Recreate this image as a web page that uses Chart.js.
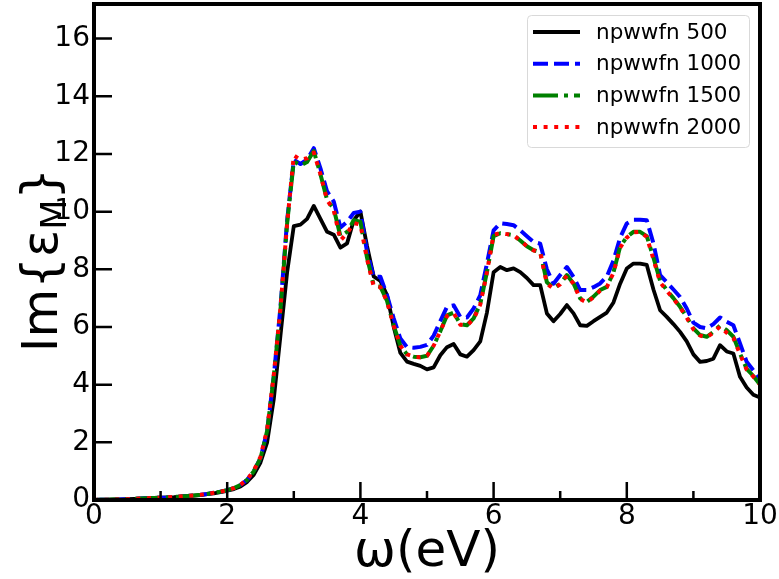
<!DOCTYPE html>
<html>
<head>
<meta charset="utf-8">
<script src="https://cdn.jsdelivr.net/npm/chart.js@4"></script>
<style>
  body { margin: 0; background: #fff; }
  canvas { display: block; }
</style>
</head>
<body>
<canvas id="myChart" width="779" height="579"></canvas>
<script>
// photon energy grid (eV)
const energy = [];
for (let i = 0; i <= 100; i++) energy.push(+(i / 10).toFixed(1));

// Im{eps_M}, one value per 0.1 eV
const npw500 = [
  0.00, 0.01, 0.01, 0.02, 0.02, 0.03, 0.04, 0.05, 0.06, 0.07,
  0.08, 0.09, 0.10, 0.12, 0.13, 0.15, 0.17, 0.20, 0.23, 0.27,
  0.32, 0.38, 0.47, 0.63, 0.88, 1.30, 2.00, 3.50, 5.70, 7.90,
  9.50, 9.55, 9.75, 10.20, 9.75, 9.30, 9.20, 8.75, 8.90, 9.70,
  10.00, 8.80, 7.75, 7.60, 7.10, 6.00, 5.10, 4.80, 4.72, 4.65,
  4.53, 4.60, 5.02, 5.30, 5.41, 5.05, 4.97, 5.20, 5.50, 6.50,
  7.90, 8.08, 7.97, 8.03, 7.90, 7.70, 7.45, 7.45, 6.47, 6.20,
  6.45, 6.76, 6.47, 6.06, 6.04, 6.20, 6.35, 6.50, 6.85, 7.50,
  8.03, 8.20, 8.20, 8.15, 7.30, 6.58, 6.35, 6.10, 5.83, 5.50,
  5.05, 4.79, 4.82, 4.90, 5.37, 5.15, 5.08, 4.27, 3.90, 3.65,
  3.55
];
const npw1000 = [
  0.00, 0.01, 0.01, 0.02, 0.02, 0.03, 0.04, 0.05, 0.06, 0.07,
  0.08, 0.09, 0.11, 0.12, 0.14, 0.16, 0.18, 0.21, 0.25, 0.29,
  0.34, 0.41, 0.52, 0.70, 1.00, 1.45, 2.40, 4.30, 6.70, 9.70,
  11.80, 11.65, 11.80, 12.20, 11.50, 10.70, 10.35, 9.45, 9.65, 9.95,
  10.00, 8.60, 7.74, 7.74, 7.10, 6.30, 5.60, 5.30, 5.28, 5.31,
  5.38, 5.70, 6.20, 6.70, 6.75, 6.35, 6.33, 6.64, 7.10, 8.20,
  9.35, 9.60, 9.57, 9.53, 9.35, 9.15, 8.95, 8.89, 8.00, 7.50,
  7.80, 8.08, 7.74, 7.28, 7.28, 7.38, 7.51, 7.75, 8.30, 9.10,
  9.59, 9.72, 9.72, 9.70, 8.90, 7.80, 7.55, 7.30, 7.04, 6.64,
  6.15, 6.00, 5.95, 6.10, 6.33, 6.18, 6.06, 5.43, 4.79, 4.50,
  4.20
];
const npw1500 = [
  0.00, 0.01, 0.01, 0.02, 0.02, 0.03, 0.04, 0.05, 0.06, 0.07,
  0.08, 0.09, 0.11, 0.12, 0.14, 0.16, 0.18, 0.21, 0.25, 0.29,
  0.34, 0.41, 0.52, 0.70, 1.00, 1.45, 2.40, 4.30, 6.60, 9.60,
  11.75, 11.60, 11.72, 12.10, 11.30, 10.40, 10.10, 9.15, 9.30, 9.70,
  9.65, 8.40, 7.45, 7.40, 6.90, 6.05, 5.35, 5.05, 4.97, 4.95,
  5.00, 5.35, 5.85, 6.40, 6.50, 6.10, 6.06, 6.30, 6.80, 7.90,
  9.15, 9.25, 9.22, 9.18, 9.00, 8.80, 8.66, 8.60, 7.55, 7.35,
  7.50, 7.80, 7.51, 6.99, 6.87, 7.05, 7.28, 7.39, 7.90, 8.78,
  9.12, 9.30, 9.30, 9.15, 8.40, 7.60, 7.28, 7.00, 6.70, 6.35,
  5.95, 5.72, 5.66, 5.83, 6.05, 5.89, 5.66, 5.08, 4.55, 4.30,
  4.00
];
const npw2000 = [
  0.00, 0.01, 0.01, 0.02, 0.02, 0.03, 0.04, 0.05, 0.06, 0.07,
  0.08, 0.09, 0.11, 0.12, 0.14, 0.16, 0.18, 0.21, 0.25, 0.29,
  0.34, 0.41, 0.53, 0.71, 1.02, 1.50, 2.45, 4.35, 6.65, 9.60,
  11.95, 11.80, 11.85, 12.05, 11.30, 10.40, 10.05, 9.00, 9.25, 9.60,
  9.55, 8.35, 7.40, 7.38, 6.88, 6.05, 5.35, 5.05, 4.97, 4.95,
  5.00, 5.35, 5.85, 6.38, 6.48, 6.08, 6.05, 6.28, 6.78, 7.90,
  9.20, 9.25, 9.22, 9.18, 9.00, 8.80, 8.66, 8.58, 7.50, 7.33,
  7.48, 7.78, 7.50, 6.97, 6.85, 7.03, 7.26, 7.38, 7.88, 8.75,
  9.10, 9.28, 9.30, 9.12, 8.35, 7.55, 7.25, 6.98, 6.68, 6.32,
  5.92, 5.70, 5.64, 5.80, 6.02, 5.80, 5.62, 5.05, 4.52, 4.28,
  4.00
];

const seriesNames = ['npwwfn 500', 'npwwfn 1000', 'npwwfn 1500', 'npwwfn 2000'];
const seriesColors = ['#000000', '#0000ff', '#008000', '#ff0000'];
const seriesDash = [[], [15, 6], [25, 6, 4, 6], [4, 6.6]];
const seriesWidth = [3.8, 4, 4, 4];
const yTicks = [0, 2, 4, 6, 8, 10, 12, 14, 16];

const FONT = 'DejaVu Sans';

function pts(ys) {
  return energy.map((x, i) => ({ x: x, y: ys[i] }));
}

// frame, inward ticks, axis titles and the legend box
const decor = {
  id: 'decor',
  afterDatasetsDraw(chart) {
    const ctx = chart.ctx;
    const a = chart.chartArea;
    const xs = chart.scales.x, ys = chart.scales.y;
    ctx.save();
    ctx.strokeStyle = '#000';
    ctx.lineWidth = 2.5;
    ctx.beginPath();
    yTicks.forEach(v => {
      const y = ys.getPixelForValue(v);
      ctx.moveTo(a.left, y); ctx.lineTo(a.left + 18, y);
    });
    for (let v = 0; v <= 10; v++) {
      const x = xs.getPixelForValue(v);
      const len = v % 2 === 0 ? 18 : 9;
      ctx.moveTo(x, a.bottom); ctx.lineTo(x, a.bottom - len);
    }
    ctx.stroke();
    ctx.lineWidth = 4;
    ctx.strokeRect(a.left, a.top, a.right - a.left, a.bottom - a.top);

    // x title
    ctx.fillStyle = '#000';
    ctx.font = '50px "' + FONT + '"';
    ctx.textAlign = 'center';
    ctx.textBaseline = 'alphabetic';
    ctx.fillText('ω(eV)', (a.left + a.right) / 2, 566);

    // y title with subscript
    ctx.translate(57, 260);
    ctx.rotate(-Math.PI / 2);
    const big = '50px "' + FONT + '"', small = '35px "' + FONT + '"';
    ctx.font = big; const w1 = ctx.measureText('Im{ε').width;
    ctx.font = small; const w2 = ctx.measureText('M').width;
    ctx.font = big; const w3 = ctx.measureText('}').width;
    let x0 = -(w1 + w2 + w3) / 2;
    ctx.textAlign = 'left';
    ctx.fillText('Im{ε', x0, 0);
    ctx.font = small; ctx.fillText('M', x0 + w1, 9);
    ctx.font = big; ctx.fillText('}', x0 + w1 + w2, 0);
    ctx.restore();

    // legend
    ctx.save();
    const lx = 527, ly = 15, lw = 222, lh = 132;
    ctx.fillStyle = 'rgba(255,255,255,0.8)';
    ctx.strokeStyle = '#d9d9d9';
    ctx.lineWidth = 1;
    ctx.beginPath();
    ctx.roundRect(lx + 0.5, ly + 0.5, lw, lh, 4);
    ctx.fill(); ctx.stroke();
    ctx.font = '21.5px "' + FONT + '"';
    ctx.textAlign = 'left';
    ctx.textBaseline = 'middle';
    seriesNames.forEach((name, i) => {
      const y = 32 + i * 31.7;
      ctx.strokeStyle = seriesColors[i];
      ctx.lineWidth = seriesWidth[i];
      ctx.setLineDash(seriesDash[i]);
      ctx.lineCap = 'butt';
      ctx.beginPath();
      ctx.moveTo(533, y); ctx.lineTo(580, y);
      ctx.stroke();
      ctx.setLineDash([]);
      ctx.fillStyle = '#000';
      ctx.fillText(name, 596, y + 1);
    });
    ctx.restore();
  }
};

const ctx = document.getElementById('myChart').getContext('2d');
const allSeries = [npw500, npw1000, npw1500, npw2000];
const chart = new Chart(ctx, {
  type: 'line',
  data: {
    datasets: allSeries.map((s, i) => ({
      label: seriesNames[i],
      data: pts(s),
      borderColor: seriesColors[i],
      borderWidth: seriesWidth[i],
      borderDash: seriesDash[i],
      borderCapStyle: 'butt',
      borderJoinStyle: 'round',
      pointRadius: 0,
      tension: 0,
      fill: false,
      order: 4 - i
    }))
  },
  options: {
    responsive: false,
    animation: false,
    events: [],
    layout: { padding: { left: 0, top: 4, right: 19, bottom: 0 } },
    plugins: { legend: { display: false }, tooltip: { enabled: false } },
    scales: {
      x: {
        type: 'linear',
        min: 0, max: 10,
        grid: { display: false, drawTicks: false },
        border: { display: false },
        afterFit(s) { s.height = 79; s.paddingLeft = 0; s.paddingRight = 0; },
        ticks: {
          stepSize: 1,
          padding: 0,
          maxRotation: 0,
          autoSkip: false,
          color: '#000',
          font: { family: FONT, size: 28 },
          callback: v => (v % 2 === 0 ? String(v) : '')
        }
      },
      y: {
        min: 0, max: 17.2,
        grid: { display: false, drawTicks: false },
        border: { display: false },
        afterFit(s) { s.width = 94; s.paddingTop = 0; s.paddingBottom = 0; },
        ticks: {
          stepSize: 2,
          includeBounds: false,
          padding: 4,
          color: '#000',
          font: { family: FONT, size: 28 }
        }
      }
    }
  },
  plugins: [decor]
});
</script>
</body>
</html>
